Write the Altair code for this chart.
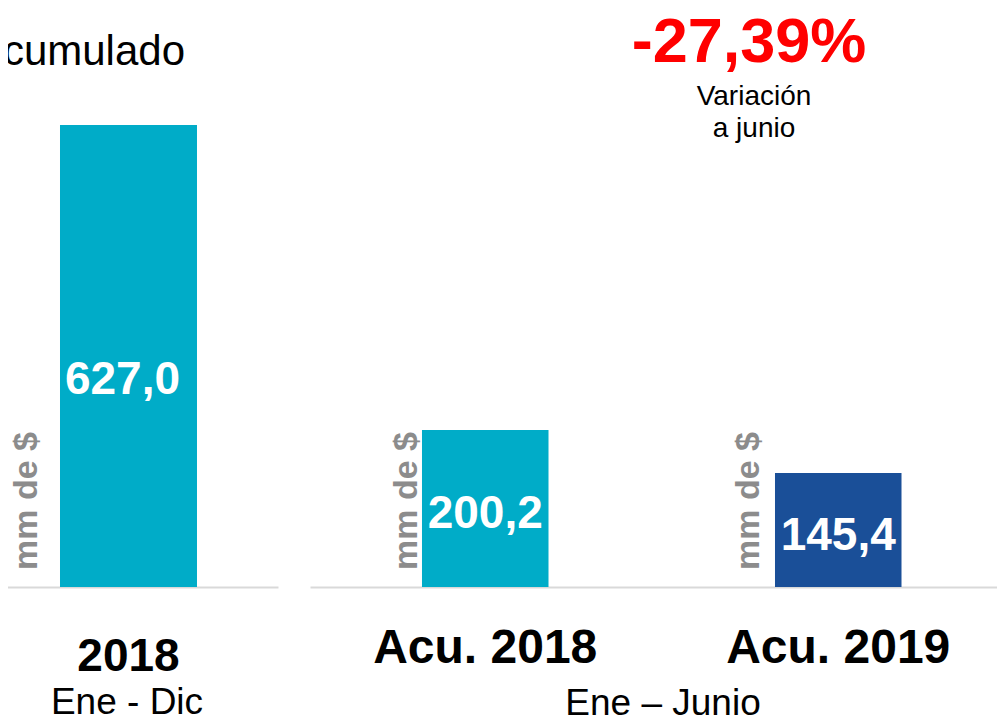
import altair as alt
import pandas as pd

# ---------------- data ----------------
left_categories = ["2018"]
left_values = [627.0]
left_labels = ["627,0"]
left_colors = ["#00ACC8"]

right_categories = ["Acu. 2018", "Acu. 2019"]
right_values = [200.2, 145.4]
right_labels = ["200,2", "145,4"]
right_colors = ["#00ACC8", "#1A4F98"]

unit_text = "mm de $"
title_text = "Acumulado"
variation_text = "-27,39%"
variation_caption = ["Variación", "a junio"]
left_period = "Ene - Dic"
right_period = "Ene – Junio"

FONT = "Liberation Sans, Arial, sans-serif"

left_df = pd.DataFrame({"cat": left_categories, "value": left_values,
                        "label": left_labels, "color": left_colors})
right_df = pd.DataFrame({"cat": right_categories, "value": right_values,
                         "label": right_labels, "color": right_colors})


def panel(df, x_range, p_inner, p_outer, align, y_max, lab_size,
          lab_pad, val_dx, val_dy, unit_dys):
    xenc = alt.X(
        "cat:N", sort=list(df["cat"]),
        scale=alt.Scale(range=x_range, paddingInner=p_inner,
                        paddingOuter=p_outer, align=align),
        axis=alt.Axis(orient="bottom", title=None, ticks=False, tickSize=0,
                      domain=True, domainColor="#d9d9d9", domainWidth=2,
                      grid=False, labelAngle=0, labelFont=FONT,
                      labelFontSize=lab_size, labelFontWeight="bold",
                      labelColor="#000000", labelBaseline="alphabetic",
                      labelPadding=lab_pad, labelOverlap=False,
                      labelLimit=0, labelFlush=False))
    yscale = alt.Scale(domain=[0, y_max], nice=False, zero=True)
    base = alt.Chart(df)
    bars = base.mark_bar().encode(
        x=xenc,
        y=alt.Y("value:Q", scale=yscale, axis=None),
        color=alt.Color("color:N", scale=None, legend=None),
    )
    vals = base.transform_calculate(mid="datum.value / 2").mark_text(
        font=FONT, fontSize=46, fontWeight="bold", color="white",
        align="center", baseline="middle", dx=val_dx, dy=val_dy
    ).encode(
        x=xenc,
        y=alt.Y("mid:Q", scale=yscale, axis=None),
        text="label:N",
    )
    layers = [bars, vals]
    for cat, d in zip(df["cat"], unit_dys):
        layers.append(
            base.transform_filter(alt.datum.cat == cat).mark_text(
                text=unit_text, angle=270, align="left", baseline="middle",
                dy=d, font=FONT, fontSize=34, fontWeight="bold",
                color="#8c8c8c"
            ).encode(x=xenc, y=alt.value(562))
        )
    return alt.layer(*layers)


left_panel = panel(left_df, [-8, 270], 0.0, 0.5146, 0.4255, 785.8,
                   46, 83, -6, 24, [-101])
right_panel = panel(right_df, [302, 997], 0.6416, 0.3052, 0.5197, 738.3,
                    48, 75, 0, 6, [-78, -89])

dummy = pd.DataFrame({"k": [0]})


def note(text, x, y, size, weight="normal", color="#000000", align="center"):
    return alt.Chart(dummy).mark_text(
        text=text, font=FONT, fontSize=size, fontWeight=weight, color=color,
        align=align, baseline="alphabetic"
    ).encode(x=alt.value(x), y=alt.value(y))


notes = [
    note(title_text, 177, 57, 42, align="right"),
    note(variation_text, 741, 54, 63, weight="bold", color="#FF0000"),
    note(variation_caption[0], 746, 97, 28),
    note(variation_caption[1], 746, 129, 28),
    note(left_period, 119, 706, 37),
    note(right_period, 655, 707, 37),
]

chart = alt.layer(left_panel, right_panel, *notes).resolve_scale(
    x="independent", y="independent"
).properties(
    width=989, height=579,
    autosize=alt.AutoSizeParams(type="none"),
    padding={"left": 0, "top": 0, "right": 0, "bottom": 130},
    background="white",
).configure_view(stroke=None)

chart.save("out.html", embed_options={"renderer": "svg", "actions": False})
